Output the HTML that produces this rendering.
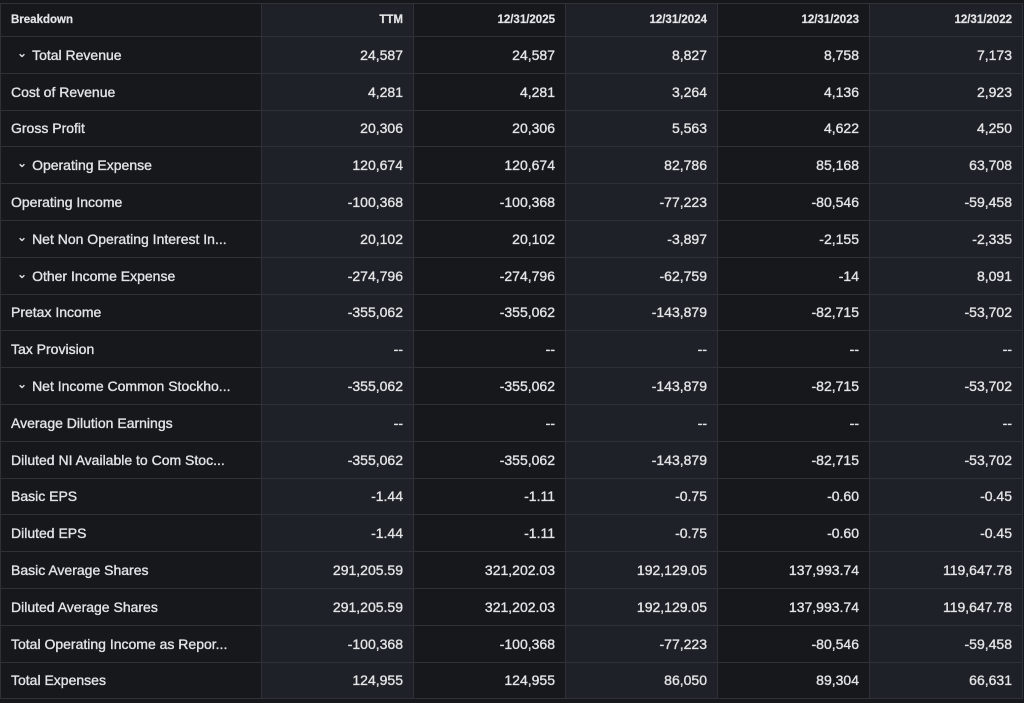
<!DOCTYPE html>
<html><head><meta charset="utf-8"><style>
body{margin:0;background:#16181c;width:1024px;height:703px;overflow:hidden;font-family:"Liberation Sans",sans-serif;color:#e3e4e6;}
table{position:absolute;left:0;top:3px;border-collapse:collapse;table-layout:fixed;width:1022px;}
td,th{border:1px solid #2e3238;padding:0 10px;text-align:right;font-size:14px;height:35.8px;white-space:nowrap;overflow:hidden;-webkit-text-stroke:0.35px #e3e4e6;}
th{font-size:11.5px;font-weight:bold;height:32px;-webkit-text-stroke:0.2px #e3e4e6;}
td:first-child,th:first-child{text-align:left;}
.l{background:#1e2127;}
.d{background:#16181c;}
.c::before{content:"⌄";font-size:12px;margin:0 5px 0 6px;position:relative;top:-3px;}
</style></head><body>
<table>
<colgroup><col style="width:261px"><col style="width:152px"><col style="width:152px"><col style="width:152px"><col style="width:152px"><col style="width:153px"></colgroup>
<tr><th class="d">Breakdown</th><th class="l">TTM</th><th class="d">12/31/2025</th><th class="l">12/31/2024</th><th class="d">12/31/2023</th><th class="l">12/31/2022</th></tr>
<tr><td class="d c">Total Revenue</td><td class="l">24,587</td><td class="d">24,587</td><td class="l">8,827</td><td class="d">8,758</td><td class="l">7,173</td></tr>
<tr><td class="d">Cost of Revenue</td><td class="l">4,281</td><td class="d">4,281</td><td class="l">3,264</td><td class="d">4,136</td><td class="l">2,923</td></tr>
<tr><td class="d">Gross Profit</td><td class="l">20,306</td><td class="d">20,306</td><td class="l">5,563</td><td class="d">4,622</td><td class="l">4,250</td></tr>
<tr><td class="d c">Operating Expense</td><td class="l">120,674</td><td class="d">120,674</td><td class="l">82,786</td><td class="d">85,168</td><td class="l">63,708</td></tr>
<tr><td class="d">Operating Income</td><td class="l">-100,368</td><td class="d">-100,368</td><td class="l">-77,223</td><td class="d">-80,546</td><td class="l">-59,458</td></tr>
<tr><td class="d c">Net Non Operating Interest In...</td><td class="l">20,102</td><td class="d">20,102</td><td class="l">-3,897</td><td class="d">-2,155</td><td class="l">-2,335</td></tr>
<tr><td class="d c">Other Income Expense</td><td class="l">-274,796</td><td class="d">-274,796</td><td class="l">-62,759</td><td class="d">-14</td><td class="l">8,091</td></tr>
<tr><td class="d">Pretax Income</td><td class="l">-355,062</td><td class="d">-355,062</td><td class="l">-143,879</td><td class="d">-82,715</td><td class="l">-53,702</td></tr>
<tr><td class="d">Tax Provision</td><td class="l">--</td><td class="d">--</td><td class="l">--</td><td class="d">--</td><td class="l">--</td></tr>
<tr><td class="d c">Net Income Common Stockho...</td><td class="l">-355,062</td><td class="d">-355,062</td><td class="l">-143,879</td><td class="d">-82,715</td><td class="l">-53,702</td></tr>
<tr><td class="d">Average Dilution Earnings</td><td class="l">--</td><td class="d">--</td><td class="l">--</td><td class="d">--</td><td class="l">--</td></tr>
<tr><td class="d">Diluted NI Available to Com Stoc...</td><td class="l">-355,062</td><td class="d">-355,062</td><td class="l">-143,879</td><td class="d">-82,715</td><td class="l">-53,702</td></tr>
<tr><td class="d">Basic EPS</td><td class="l">-1.44</td><td class="d">-1.11</td><td class="l">-0.75</td><td class="d">-0.60</td><td class="l">-0.45</td></tr>
<tr><td class="d">Diluted EPS</td><td class="l">-1.44</td><td class="d">-1.11</td><td class="l">-0.75</td><td class="d">-0.60</td><td class="l">-0.45</td></tr>
<tr><td class="d">Basic Average Shares</td><td class="l">291,205.59</td><td class="d">321,202.03</td><td class="l">192,129.05</td><td class="d">137,993.74</td><td class="l">119,647.78</td></tr>
<tr><td class="d">Diluted Average Shares</td><td class="l">291,205.59</td><td class="d">321,202.03</td><td class="l">192,129.05</td><td class="d">137,993.74</td><td class="l">119,647.78</td></tr>
<tr><td class="d">Total Operating Income as Repor...</td><td class="l">-100,368</td><td class="d">-100,368</td><td class="l">-77,223</td><td class="d">-80,546</td><td class="l">-59,458</td></tr>
<tr><td class="d">Total Expenses</td><td class="l">124,955</td><td class="d">124,955</td><td class="l">86,050</td><td class="d">89,304</td><td class="l">66,631</td></tr>
</table>
</body></html>
